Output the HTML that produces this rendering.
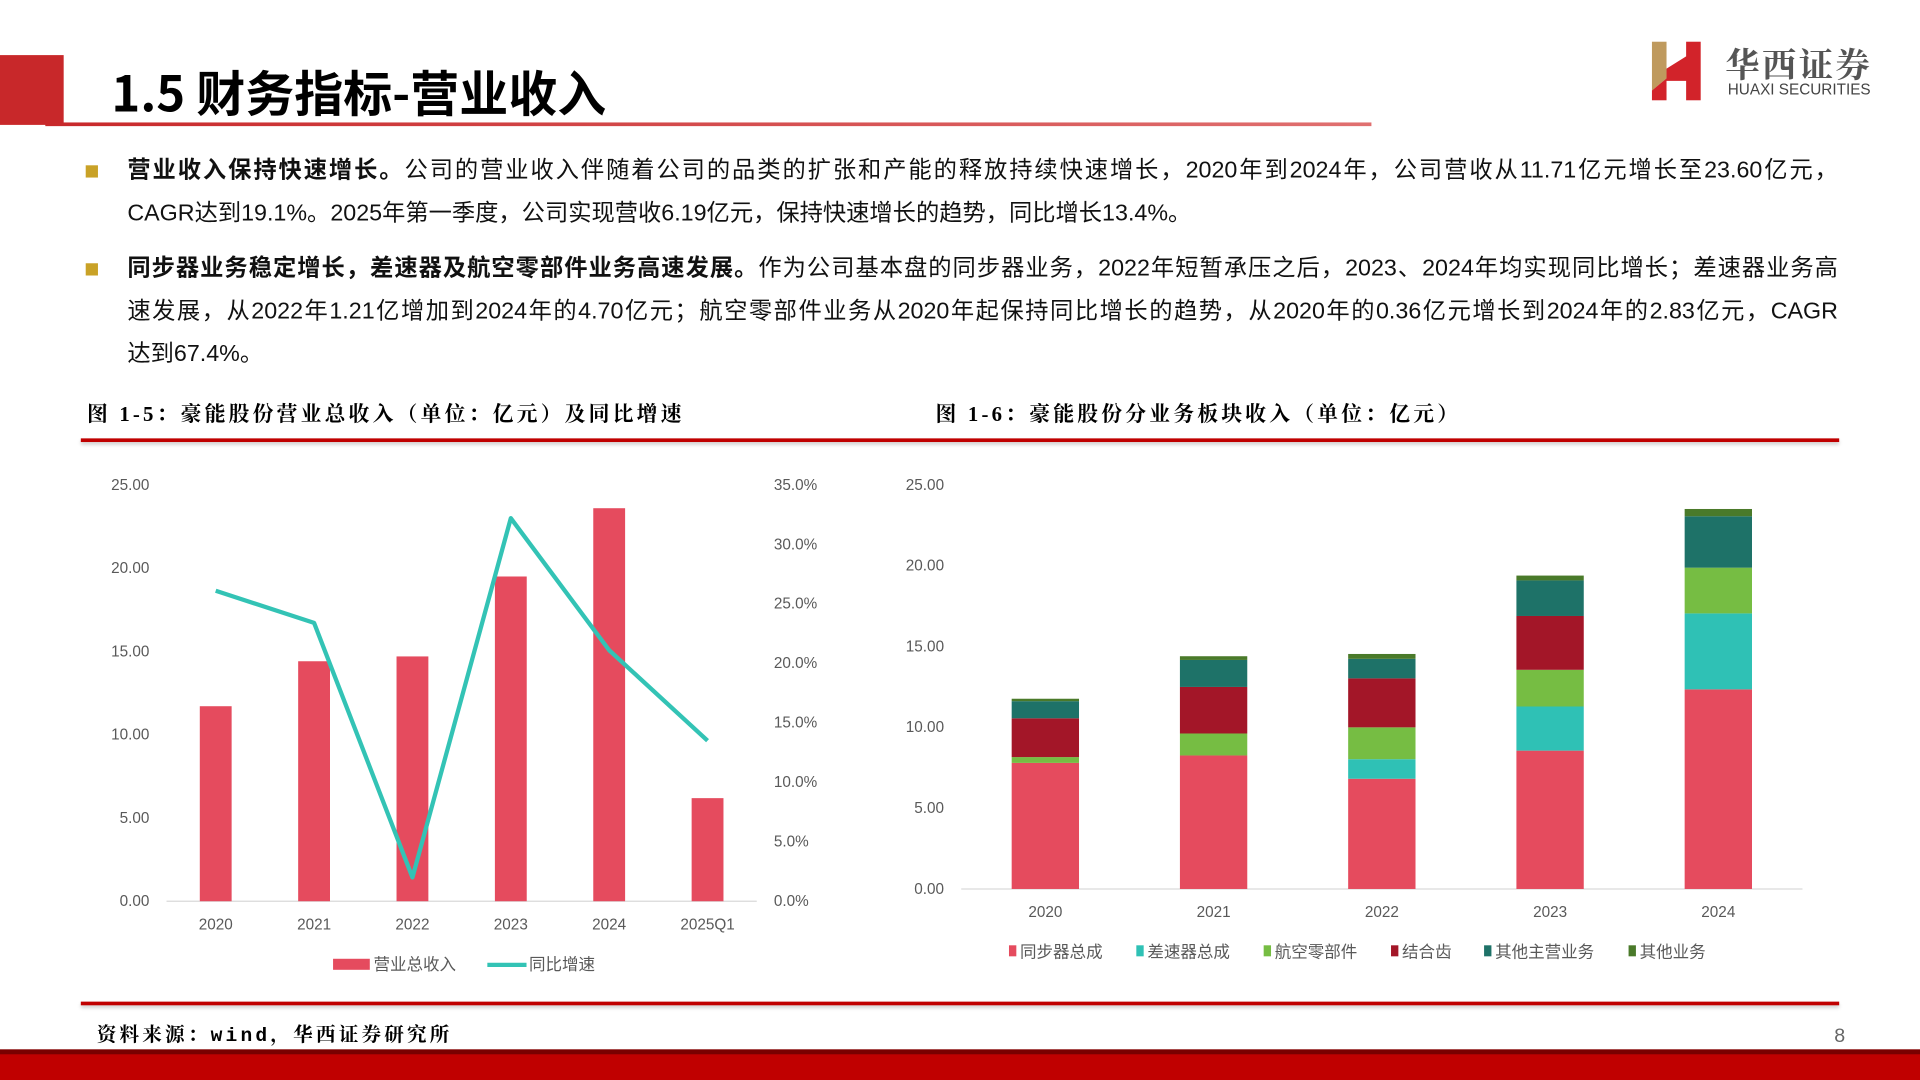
<!DOCTYPE html>
<html><head><meta charset="utf-8">
<style>
html,body{margin:0;padding:0;background:#fff;overflow:hidden}
#wrap{width:1568px;height:882px;position:relative;transform:scale(1.2244898);transform-origin:0 0;font-family:"Liberation Sans","Noto Sans CJK SC",sans-serif;color:#000}
.abs{position:absolute}
.bul{position:absolute;left:104px;width:1397px;font-size:19px;line-height:35px;color:#111;white-space:nowrap}
.bul .full{text-align:justify;text-align-last:justify}
.sq{position:absolute;left:70px;width:10px;height:10px;background:#c9a227}
.ftitle{position:absolute;top:324px;font-family:"Liberation Serif","Noto Serif CJK SC",serif;font-weight:bold;font-size:17px;letter-spacing:2.6px}
</style></head><body>
<div id="wrap">
<div class="abs" style="left:0;top:45px;width:52px;height:57px;background:#c8282a"></div>
<div class="abs" style="left:91px;top:50px;font-size:40px;font-weight:bold;font-family:'Noto Sans CJK SC',sans-serif;line-height:48px">1.5 财务指标-营业收入</div>
<div class="abs" style="left:37px;top:100px;width:1083px;height:3px;background:linear-gradient(90deg,#c8282a,#e07070)"></div>
<div class="abs" style="left:1349px;top:34px;width:190px;height:50px">
<svg width="40" height="48" viewBox="0 0 40 48"><polygon points="0,0 12,0 12,30 0,40" fill="#bf9a5e"/><polygon points="0,40 12,30 12,22 28,12 28,0 40,0 40,48 28,48 28,32 12,32 12,48 0,48" fill="#d2232a"/></svg>
<div class="abs" style="left:60px;top:-2px;font-size:28px;font-weight:bold;color:#555;font-family:'Noto Serif CJK SC',serif;letter-spacing:2px">华西证券</div>
<div class="abs" style="left:62px;top:32px;font-size:12.5px;color:#444;white-space:nowrap">HUAXI SECURITIES</div>
</div>

<div class="sq" style="top:135px"></div>
<div class="bul" style="top:122px"><div class="full" style="white-space:normal"><b>营业收入保持快速增长。</b>公司的营业收入伴随着公司的品类的扩张和产能的释放持续快速增长，2020年到2024年，公司营收从11.71亿元增长至23.60亿元，</div><div>CAGR达到19.1%。2025年第一季度，公司实现营收6.19亿元，保持快速增长的趋势，同比增长13.4%。</div></div>
<div class="sq" style="top:215px"></div>
<div class="bul" style="top:202px"><div class="full" style="white-space:normal"><b>同步器业务稳定增长，差速器及航空零部件业务高速发展。</b>作为公司基本盘的同步器业务，2022年短暂承压之后，2023、2024年均实现同比增长；差速器业务高</div><div class="full" style="white-space:normal">速发展，从2022年1.21亿增加到2024年的4.70亿元；航空零部件业务从2020年起保持同比增长的趋势，从2020年的0.36亿元增长到2024年的2.83亿元，CAGR</div><div>达到67.4%。</div></div>

<div class="ftitle" style="left:71px">图 1-5：豪能股份营业总收入（单位：亿元）及同比增速</div>
<div class="ftitle" style="left:764px">图 1-6：豪能股份分业务板块收入（单位：亿元）</div>
<div class="abs" style="left:66px;top:358px;width:1436px;height:3px;background:#c00000;box-shadow:0 2px 3px #ccc"></div>
<div class="abs" style="left:66px;top:818px;width:1436px;height:3px;background:#c00000;box-shadow:0 2px 3px #ccc"></div>
<div class="abs" style="left:79px;top:832px;font-size:16px;font-weight:bold;font-family:'Liberation Mono','Noto Serif CJK SC',monospace;letter-spacing:2.6px">资料来源：wind，华西证券研究所</div>
<div class="abs" style="left:1498px;top:838px;font-size:16px;color:#666">8</div>
<div class="abs" style="left:0;top:857px;width:1568px;height:25px;background:#c00000;border-top:4px solid #7a0000;box-sizing:border-box"></div>

<svg class="abs" id="c1" style="left:0;top:0" width="760" height="882"></svg>
<svg class="abs" id="c2" style="left:0;top:0" width="1568" height="882"></svg>
</div>
<script>
const cats1=["2020","2021","2022","2023","2024","2025Q1"];
const revenue=[11.71,14.41,14.70,19.50,23.60,6.19];
const growth=[26.1,23.4,2.0,32.2,21.1,13.5];
const leftTicks=["0.00","5.00","10.00","15.00","20.00","25.00"];
const rightTicks=["0.0%","5.0%","10.0%","15.0%","20.0%","25.0%","30.0%","35.0%"];

const cats2=["2020","2021","2022","2023","2024"];
const segNames=["同步器总成","差速器总成","航空零部件","结合齿","其他主营业务","其他业务"];
const syncVals=[7.80,8.26,6.82,8.56,12.35];
const diffVals=[0,0,1.21,2.73,4.70];
const aeroVals=[0.36,1.36,1.97,2.27,2.83];
const gearVals=[2.40,2.88,3.03,3.33,0];
const otherMainVals=[1.06,1.67,1.21,2.20,3.18];
const otherVals=[0.15,0.23,0.30,0.30,0.45];
const ticks2=["0.00","5.00","10.00","15.00","20.00","25.00"];

const NS="http://www.w3.org/2000/svg";
function mk(p,t,a){const e=document.createElementNS(NS,t);for(const k in a)e.setAttribute(k,a[k]);p.appendChild(e);return e;}
const F='"Liberation Sans","Noto Sans CJK SC",sans-serif';

(function(){
const s=document.getElementById('c1');
const x0=136,x1=618,yb=736,yt=396;
const y=v=>yb-(v/25)*(yb-yt), yr=v=>yb-(v/35)*(yb-yt);
const step=(x1-x0)/cats1.length, xc=i=>x0+step*(i+0.5);
let e=mk(s,'line',{x1:x0,x2:x1,y1:yb,y2:yb,stroke:'#d9d9d9'});

leftTicks.forEach((t,i)=>{e=mk(s,'text',{x:122,y:y(i*5)+4,'text-anchor':'end','font-size':12.5,fill:'#595959','font-family':F});e.textContent=t;
});
rightTicks.forEach((t,i)=>{e=mk(s,'text',{x:632,y:yr(i*5)+4,'font-size':12.5,fill:'#595959','font-family':F});e.textContent=t;
});
revenue.forEach((v,i)=>{e=mk(s,'rect',{x:xc(i)-13,y:y(v),width:26,height:yb-y(v),fill:'#e54b5e'});

e=mk(s,'text',{x:xc(i),y:759,'text-anchor':'middle','font-size':12.5,fill:'#595959','font-family':F});e.textContent=cats1[i];
});
e=mk(s,'polyline',{points:growth.map((v,i)=>xc(i)+','+yr(v)).join(' '),fill:'none',stroke:'#33c3b5','stroke-width':3.5,'stroke-linejoin':'round'});

e=mk(s,'rect',{x:272,y:783,width:30,height:9,fill:'#e54b5e'});
e=mk(s,'text',{x:305,y:792,'font-size':13.5,fill:'#595959','font-family':F});e.textContent='营业总收入';
e=mk(s,'line',{x1:398,x2:430,y1:788,y2:788,stroke:'#33c3b5','stroke-width':3.5});
e=mk(s,'text',{x:432,y:792,'font-size':13.5,fill:'#595959','font-family':F});e.textContent='同比增速';
})();

(function(){
const s=document.getElementById('c2');
const x0=785,x1=1472,yb=726,yt=396;
const y=v=>yb-(v/25)*(yb-yt);
const step=(x1-x0)/cats2.length, xc=i=>x0+step*(i+0.5);
const series=[syncVals,diffVals,aeroVals,gearVals,otherMainVals,otherVals];
const colors=['#e54b5e','#2fc1b5','#76bd43','#a31628','#1e7268','#4a7a2a'];
let e=mk(s,'line',{x1:x0,x2:x1,y1:yb,y2:yb,stroke:'#d9d9d9'});

ticks2.forEach((t,i)=>{e=mk(s,'text',{x:771,y:y(i*5)+4,'text-anchor':'end','font-size':12.5,fill:'#595959','font-family':F});e.textContent=t;
});
cats2.forEach((c,i)=>{let acc=0;
series.forEach((ser,k)=>{const v=ser[i];if(v>0){e=mk(s,'rect',{x:xc(i)-27.5,y:y(acc+v),width:55,height:y(acc)-y(acc+v),fill:colors[k]});
}acc+=v;});
e=mk(s,'text',{x:xc(i),y:749,'text-anchor':'middle','font-size':12.5,fill:'#595959','font-family':F});e.textContent=c;
});
const lx=[824,928,1032,1136,1212,1330];
segNames.forEach((n,k)=>{e=mk(s,'rect',{x:lx[k],y:772,width:6,height:9,fill:colors[k]});

e=mk(s,'text',{x:lx[k]+9,y:782,'font-size':13.5,fill:'#595959','font-family':F});e.textContent=n;
});
})();
</script>
</body></html>
